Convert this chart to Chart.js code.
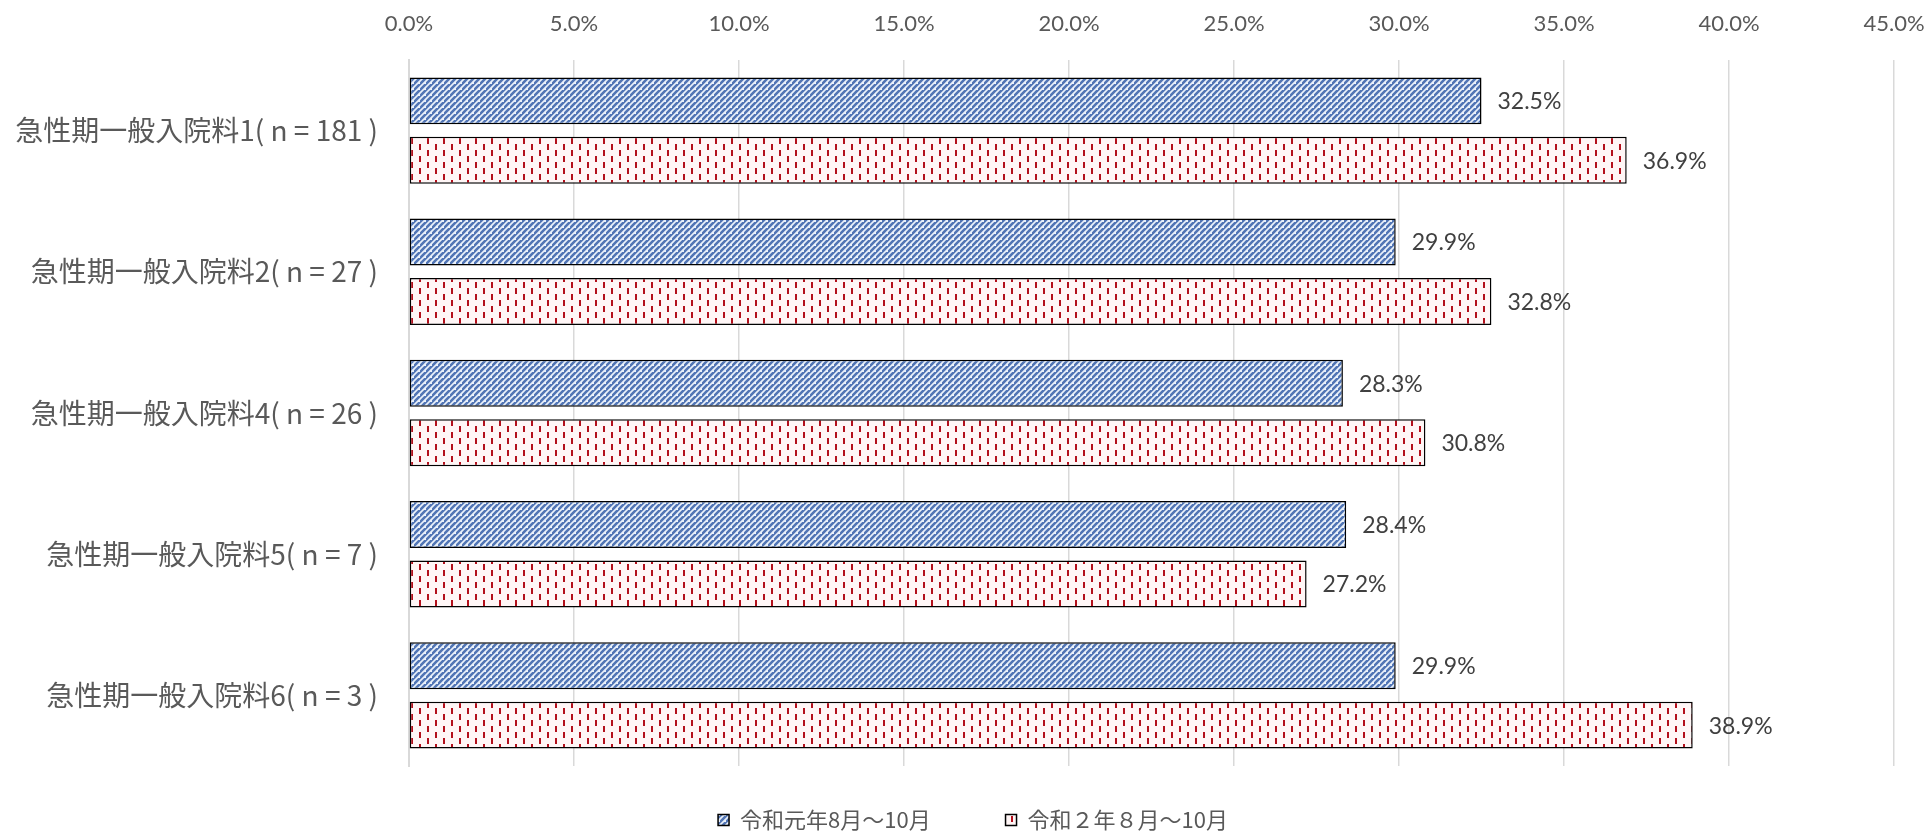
<!DOCTYPE html>
<html>
<head>
<meta charset="utf-8">
<script src="https://cdn.jsdelivr.net/npm/chart.js@4.4.1/dist/chart.umd.min.js"></script>
<style>
html,body{margin:0;padding:0;background:#fff;}
#c{display:block;}
</style>
</head>
<body>
<canvas id="c" width="1928" height="833"></canvas>
<script>
const categories = [
  "急性期一般入院料1( n = 181 )",
  "急性期一般入院料2( n = 27 )",
  "急性期一般入院料4( n = 26 )",
  "急性期一般入院料5( n = 7 )",
  "急性期一般入院料6( n = 3 )"
];
const seriesNames = ["令和元年8月～10月", "令和２年８月～10月"];
const valuesR1 = [32.5, 29.9, 28.3, 28.4, 29.9];
const valuesR2 = [36.9, 32.8, 30.8, 27.2, 38.9];
const axisMin = 0;
const axisMax = 45;
const axisStep = 5;

function makeBluePattern() {
  const s = 6;
  const cv = document.createElement('canvas');
  cv.width = s; cv.height = s;
  const g = cv.getContext('2d');
  g.fillStyle = '#eaf1fa';
  g.fillRect(0, 0, s, s);
  g.strokeStyle = '#5175b5';
  g.lineWidth = 2.6;
  g.beginPath();
  g.moveTo(-1, s + 1); g.lineTo(s + 1, -1);
  g.moveTo(-1 - s, s + 1); g.lineTo(1, -1);
  g.moveTo(s - 1, 2 * s + 1); g.lineTo(2 * s + 1, s - 1);
  g.stroke();
  return g.createPattern(cv, 'repeat');
}
function makeRedPattern() {
  const cv = document.createElement('canvas');
  cv.width = 16; cv.height = 12;
  const g = cv.getContext('2d');
  g.fillStyle = '#fff6f6';
  g.fillRect(0, 0, 16, 12);
  g.fillStyle = '#b3101c';
  g.fillRect(3, 0, 2, 6);
  g.fillRect(11, 6, 2, 6);
  return g.createPattern(cv, 'repeat');
}

const valueLabels = {
  id: 'valueLabels',
  afterDatasetsDraw(chart) {
    const ctx = chart.ctx;
    ctx.save();
    ctx.font = '23px Lato, "Noto Sans", sans-serif';
    ctx.fillStyle = '#404040';
    ctx.textAlign = 'left';
    ctx.textBaseline = 'middle';
    chart.data.datasets.forEach((ds, di) => {
      const meta = chart.getDatasetMeta(di);
      meta.data.forEach((bar, i) => {
        ctx.fillText(ds.data[i].toFixed(1) + '%', bar.x + 16, bar.y + 1);
      });
    });
    ctx.restore();
  }
};

const legendShift = {
  id: 'legendShift',
  afterLayout(chart) {
    const l = chart.legend;
    if (l) { l.left += 18; }
  }
};

new Chart(document.getElementById('c'), {
  type: 'bar',
  data: {
    labels: categories,
    datasets: [
      { label: seriesNames[0], data: valuesR1, backgroundColor: makeBluePattern(), borderColor: '#000', borderWidth: 1.5, borderSkipped: false },
      { label: seriesNames[1], data: valuesR2, backgroundColor: makeRedPattern(), borderColor: '#000', borderWidth: 1.5, borderSkipped: false }
    ]
  },
  options: {
    indexAxis: 'y',
    responsive: false,
    animation: false,
    devicePixelRatio: 1,
    datasets: { bar: { categoryPercentage: 0.842, barPercentage: 0.79 } },
    layout: { padding: { top: 0, left: 0, right: 0, bottom: -8 } },
    scales: {
      x: {
        position: 'top',
        min: axisMin, max: axisMax,
        ticks: {
          stepSize: axisStep,
          padding: 23,
          color: '#595959',
          font: { family: 'Lato, "Noto Sans", sans-serif', size: 22 },
          callback: v => Number(v).toFixed(1) + '%'
        },
        grid: { color: '#d9d9d9', lineWidth: 1.5, drawTicks: false },
        border: { display: false },
        afterFit(s) { s.height = 60; s.paddingRight = 34; s.paddingLeft = 0; }
      },
      y: {
        ticks: {
          padding: 31,
          color: '#595959',
          font: { family: '"Noto Sans CJK JP", sans-serif', size: 28 }
        },
        grid: { display: false, drawTicks: false },
        border: { display: true, color: '#d9d9d9', width: 2 },
        afterFit(s) { s.width = 409; }
      }
    },
    plugins: {
      legend: {
        position: 'bottom',
        labels: {
          boxWidth: 11, boxHeight: 11,
          padding: 43,
          color: '#595959',
          font: { family: '"Noto Sans CJK JP", sans-serif', size: 22 },
          generateLabels(chart) {
            const items = Chart.defaults.plugins.legend.labels.generateLabels(chart);
            items.forEach((it, i) => { if (i < items.length - 1) it.text = it.text + '\u3000  '; });
            return items;
          }
        }
      },
      tooltip: { enabled: false }
    }
  },
  plugins: [valueLabels, legendShift]
});
</script>
</body>
</html>
